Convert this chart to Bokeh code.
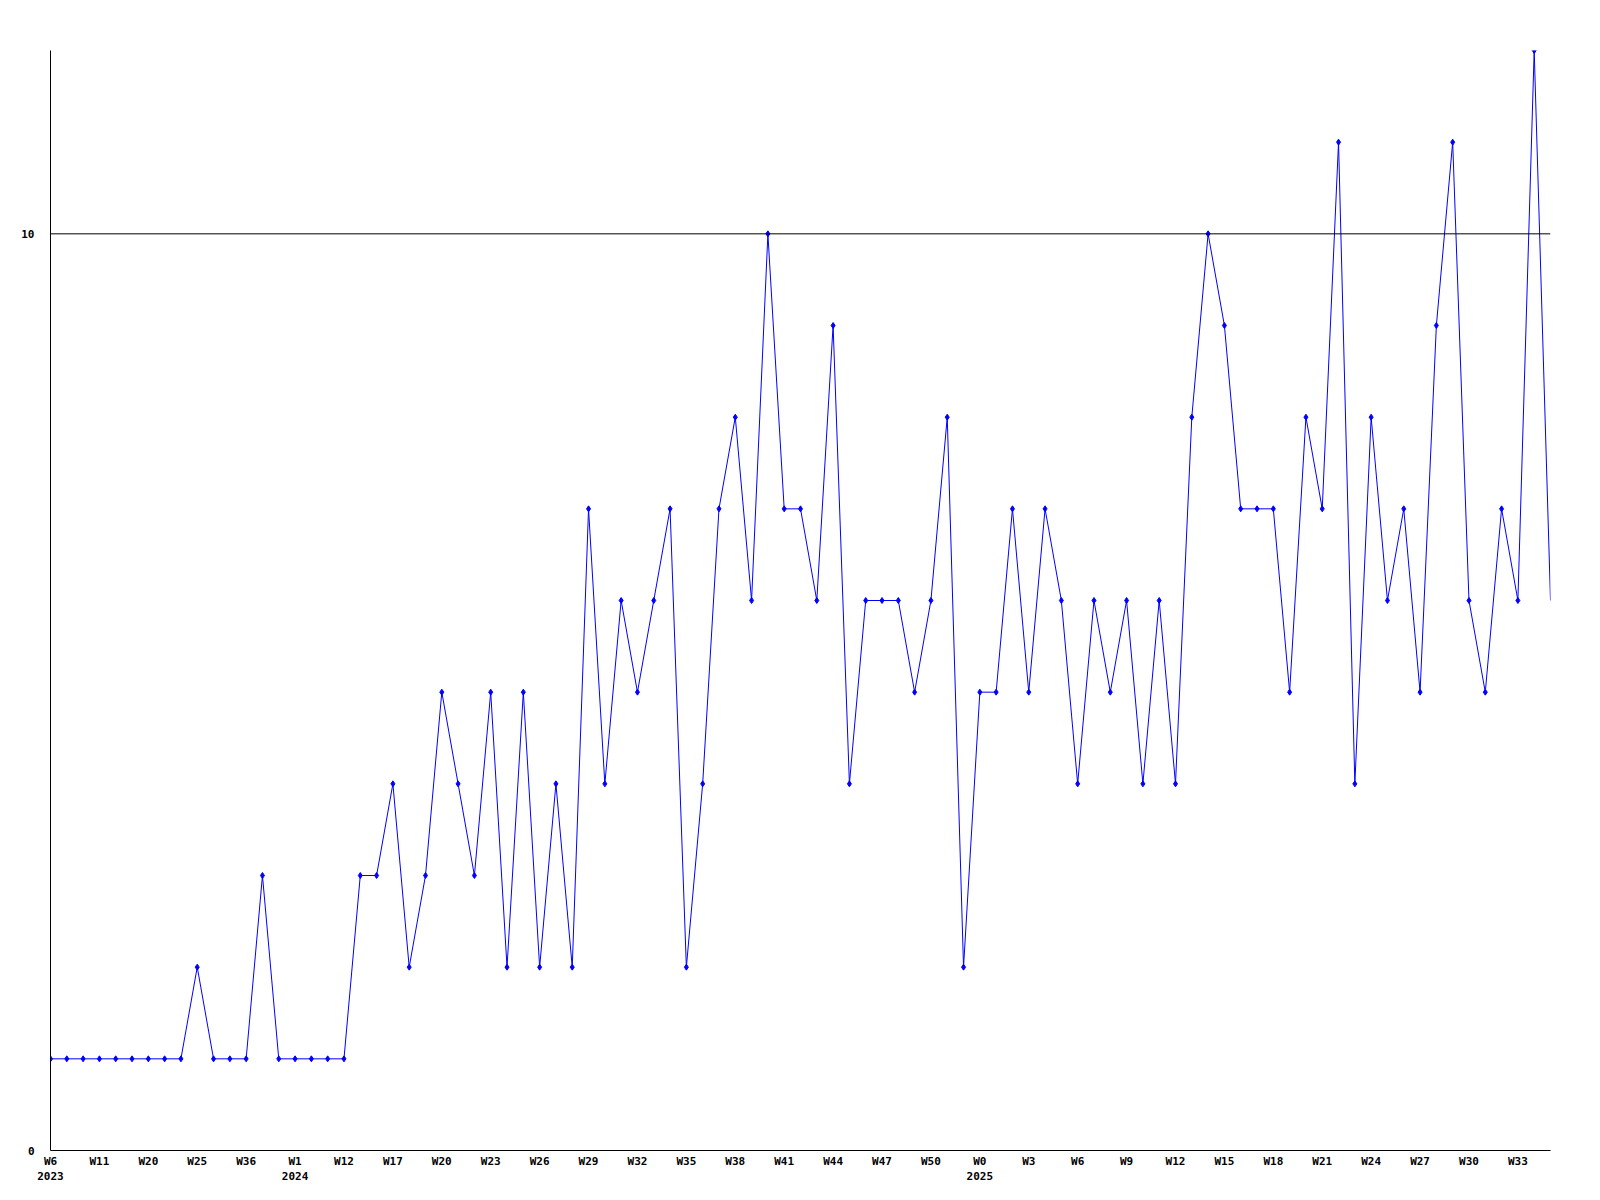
from bokeh.plotting import figure
from bokeh.models import Range1d, FixedTicker, ColumnDataSource, Span
from bokeh.embed import file_html
from bokeh.resources import INLINE

values = [1, 1, 1, 1, 1, 1, 1, 1, 1, 2, 1, 1, 1, 3, 1, 1, 1, 1, 1, 3,
          3, 4, 2, 3, 5, 4, 3, 5, 2, 5, 2, 4, 2, 7, 4, 6, 5, 6, 7, 2,
          4, 7, 8, 6, 10, 7, 7, 6, 9, 4, 6, 6, 6, 5, 6, 8, 2, 5, 5, 7,
          5, 7, 6, 4, 6, 5, 6, 4, 6, 4, 8, 10, 9, 7, 7, 7, 5, 8, 7, 11,
          4, 8, 6, 7, 5, 9, 11, 6, 5, 7, 6, 12, 6]

week_labels = ["W6", "W11", "W20", "W25", "W36", "W1", "W12", "W17", "W20", "W23",
               "W26", "W29", "W32", "W35", "W38", "W41", "W44", "W47", "W50", "W0",
               "W3", "W6", "W9", "W12", "W15", "W18", "W21", "W24", "W27", "W30", "W33"]
year_labels = {0: "2023", 5: "2024", 19: "2025"}

y_ticks = [0, 10]

x = list(range(len(values)))
src = ColumnDataSource(dict(x=x, y=values))
mk = ColumnDataSource(dict(x=x[:-1], y=values[:-1]))

p = figure(frame_width=1500, frame_height=1100, output_backend="svg",
           toolbar_location=None, min_border_left=50, min_border_top=50,
           min_border_right=34, min_border_bottom=34,
           x_range=Range1d(0, len(values) - 1), y_range=Range1d(0, 12))
p.outline_line_color = None
p.background_fill_color = "white"
p.border_fill_color = "white"

p.line("x", "y", source=src, line_color="#0000ff", line_width=1)
p.scatter("x", "y", source=mk, marker="diamond", size=6, fill_color="#0000ff",
          line_color="#0000ff")

p.add_layout(Span(location=10, dimension="width", line_color="black", line_width=1))

font = "DejaVu Sans Mono"
tick_pos = list(range(0, len(values), 3))[:len(week_labels)]
overrides = {}
for k, pos in enumerate(tick_pos):
    lab = week_labels[k]
    if k in year_labels:
        lab = lab + "\n" + year_labels[k]
    overrides[pos] = lab

xa = p.xaxis[0]
xa.ticker = FixedTicker(ticks=tick_pos)
xa.major_label_overrides = overrides
xa.major_tick_out = 0
xa.major_tick_in = 0
xa.minor_tick_out = 0
xa.minor_tick_in = 0
xa.major_label_text_font = font
xa.major_label_text_font_style = "bold"
xa.major_label_text_font_size = "11px"
xa.major_label_text_color = "black"
xa.major_label_standoff = 4
xa.axis_line_color = "black"

ya = p.yaxis[0]
ya.ticker = FixedTicker(ticks=y_ticks)
ya.major_tick_out = 0
ya.major_tick_in = 0
ya.minor_tick_out = 0
ya.minor_tick_in = 0
ya.major_label_text_font = font
ya.major_label_text_font_style = "bold"
ya.major_label_text_font_size = "11px"
ya.major_label_text_color = "black"
ya.major_label_standoff = 16
ya.axis_line_color = "black"

p.xgrid.grid_line_color = None
p.ygrid.grid_line_color = None

open("out.html", "w").write(file_html(p, INLINE))
